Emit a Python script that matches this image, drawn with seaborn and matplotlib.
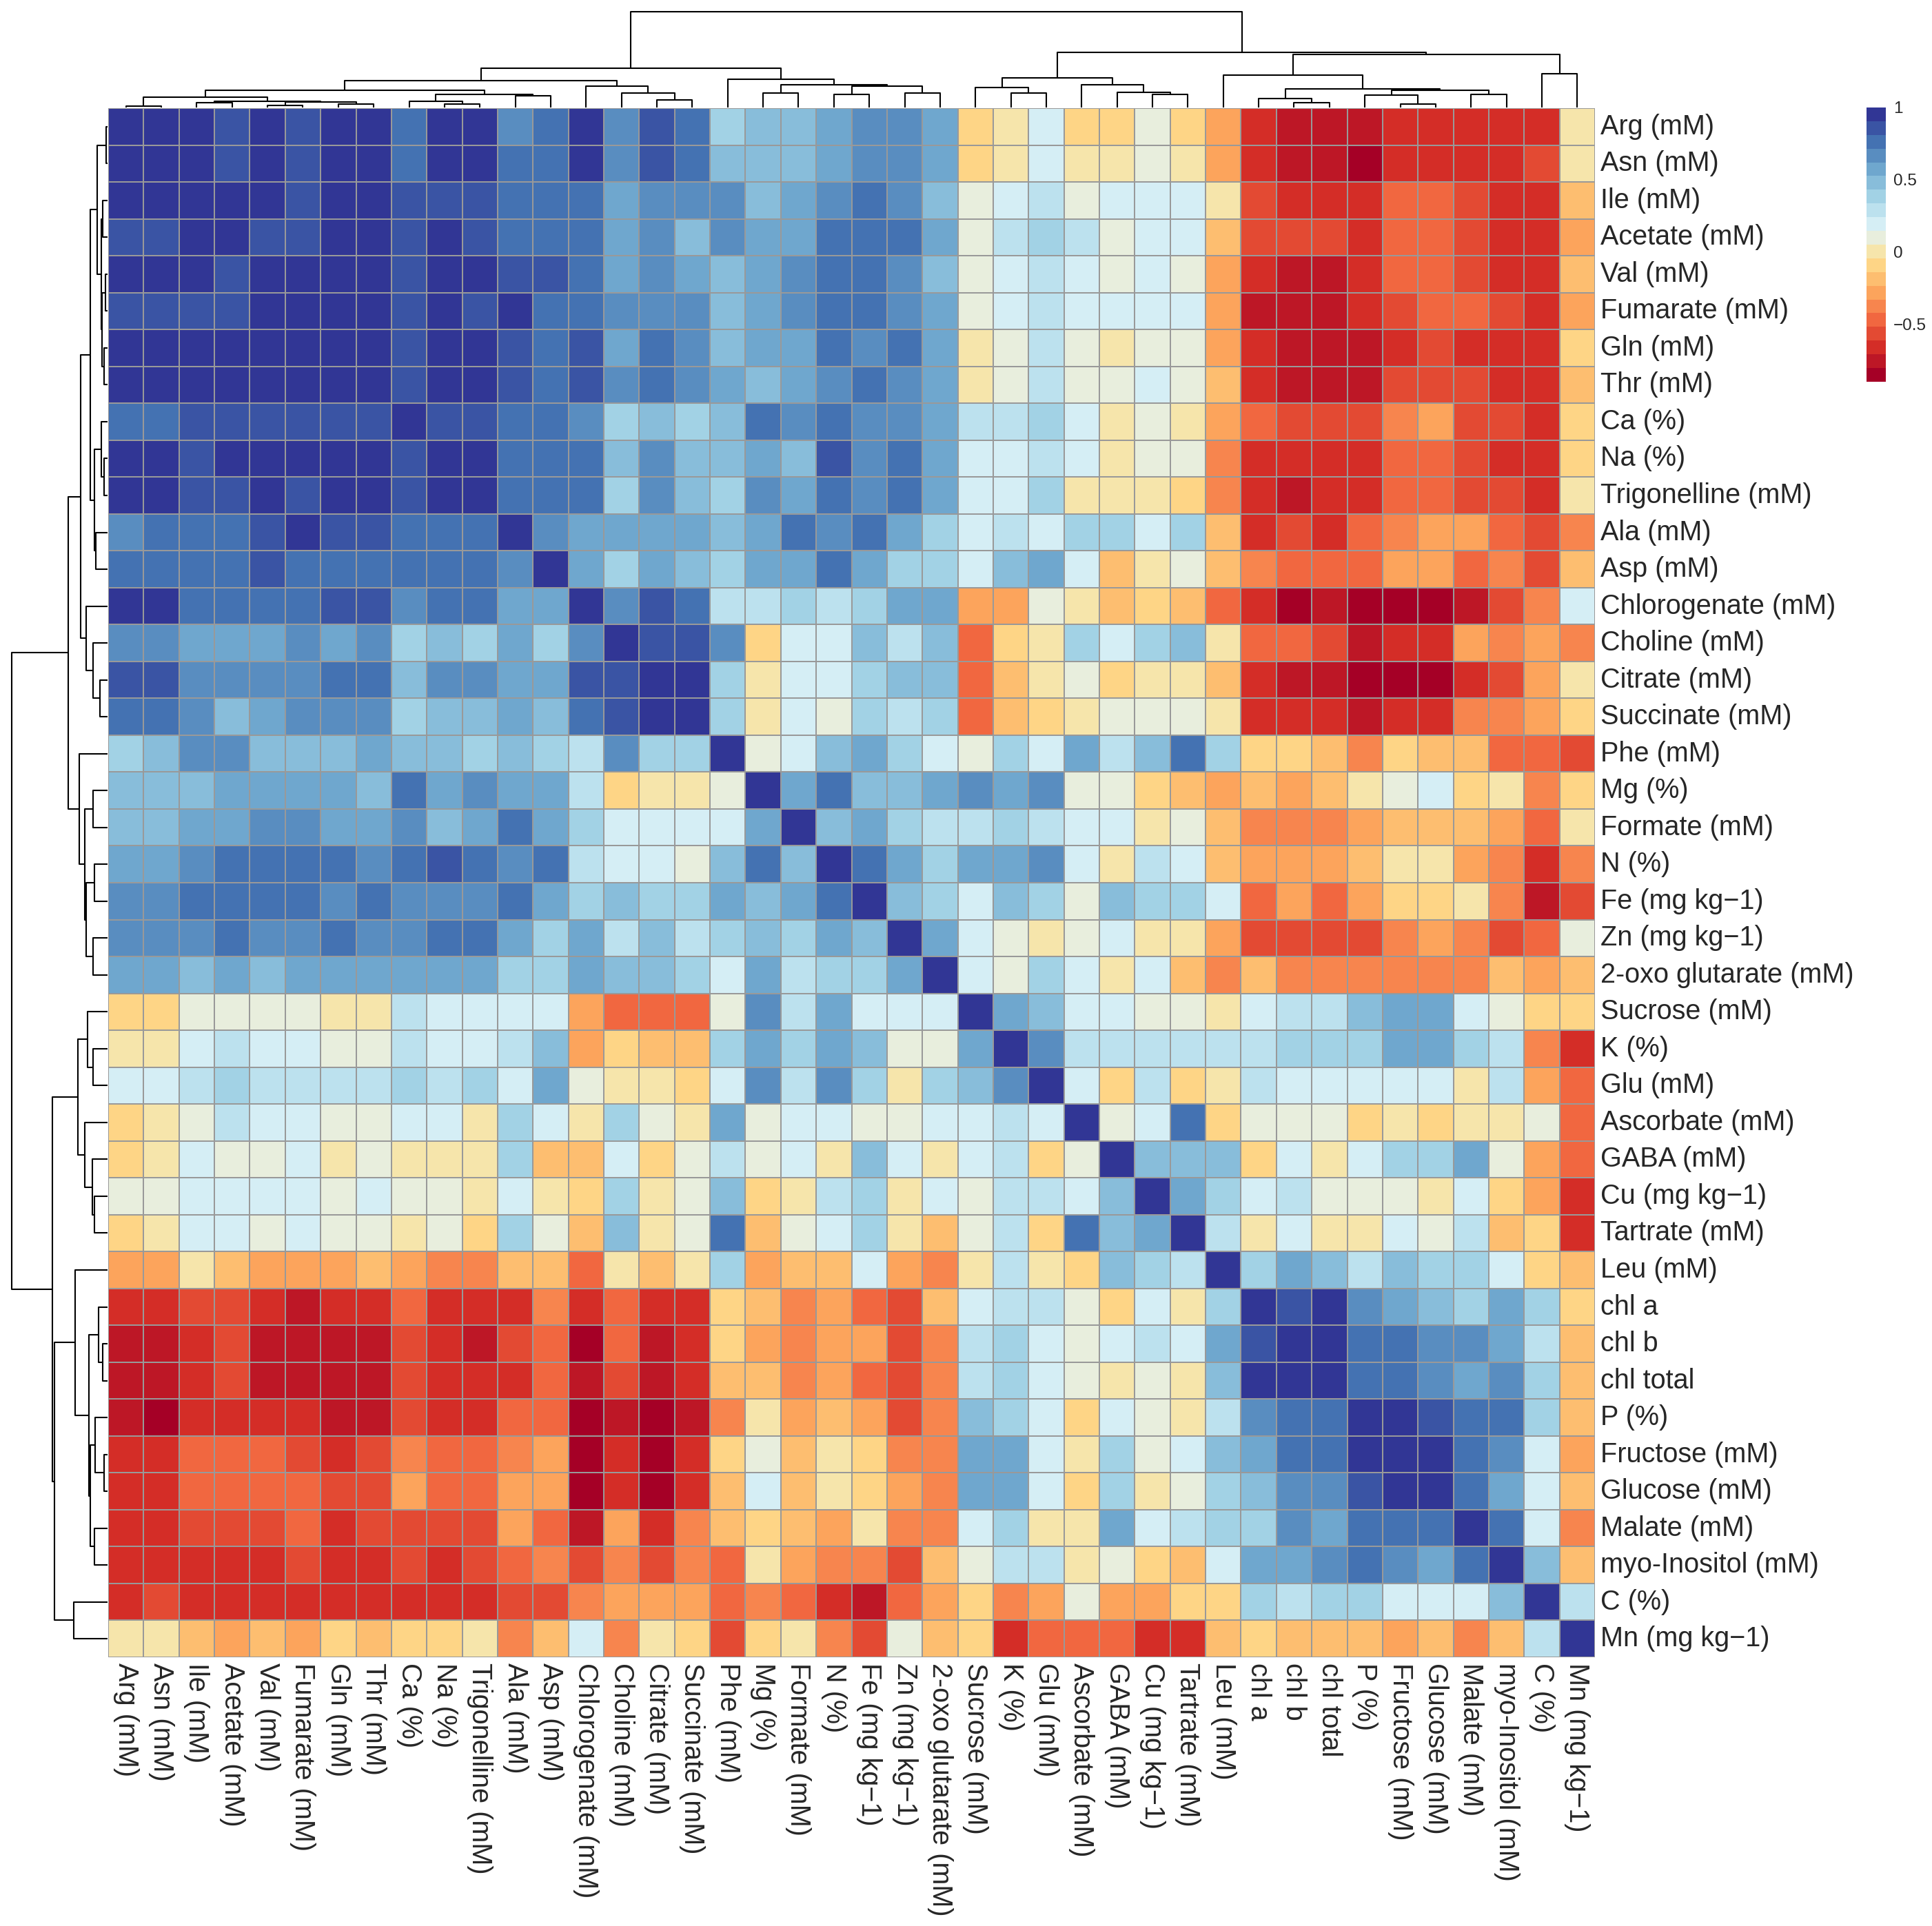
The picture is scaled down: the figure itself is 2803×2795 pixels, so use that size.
import numpy as np
import pandas as pd
import matplotlib
matplotlib.use("Agg")
import matplotlib.pyplot as plt
from matplotlib.colors import ListedColormap, to_rgb
import seaborn as sns

labels = ["Arg (mM)", "Asn (mM)", "Ile (mM)", "Acetate (mM)", "Val (mM)", "Fumarate (mM)",
          "Gln (mM)", "Thr (mM)", "Ca (%)", "Na (%)", "Trigonelline (mM)", "Ala (mM)", "Asp (mM)",
          "Chlorogenate (mM)", "Choline (mM)", "Citrate (mM)", "Succinate (mM)", "Phe (mM)",
          "Mg (%)", "Formate (mM)", "N (%)", "Fe (mg kg\u22121)", "Zn (mg kg\u22121)",
          "2-oxo glutarate (mM)", "Sucrose (mM)", "K (%)", "Glu (mM)", "Ascorbate (mM)",
          "GABA (mM)", "Cu (mg kg\u22121)", "Tartrate (mM)", "Leu (mM)", "chl a", "chl b",
          "chl total", "P (%)", "Fructose (mM)", "Glucose (mM)", "Malate (mM)",
          "myo-Inositol (mM)", "C (%)", "Mn (mg kg\u22121)"]

# upper triangle of the correlation matrix, row i holds columns i..41
upper_rows = [
    [1.0, .95, .95, .86, .95, .86, .95, .95, .76, .95, .95, .67, .76, .95, .67, .86, .76, .38, .48, .48, .57, .67, .67, .57, -.09, 0.0, .19, -.09, -.09, .10, -.09, -.28, -.66, -.76, -.76, -.76, -.66, -.66, -.66, -.66, -.66, 0.0],
    [1.0, .95, .86, .95, .86, .95, .95, .76, .95, .95, .76, .76, .95, .67, .86, .76, .48, .48, .48, .57, .67, .67, .57, -.09, 0.0, .19, 0.0, 0.0, .10, 0.0, -.28, -.66, -.76, -.76, -.85, -.66, -.66, -.66, -.66, -.57, 0.0],
    [1.0, .95, .95, .86, .95, .95, .86, .86, .86, .76, .76, .76, .57, .67, .67, .67, .48, .57, .67, .76, .67, .48, .10, .19, .29, .10, .19, .19, .19, 0.0, -.57, -.66, -.66, -.66, -.47, -.47, -.57, -.66, -.66, -.19],
    [1.0, .86, .86, .95, .95, .86, .95, .86, .76, .76, .76, .57, .67, .48, .67, .57, .57, .76, .76, .76, .57, .10, .29, .38, .29, .10, .19, .19, -.19, -.57, -.57, -.57, -.66, -.47, -.47, -.57, -.66, -.66, -.28],
    [1.0, .95, .95, .95, .86, .95, .95, .86, .86, .76, .57, .67, .57, .48, .57, .67, .76, .76, .67, .48, .10, .19, .29, .19, .10, .19, .10, -.28, -.66, -.76, -.76, -.66, -.47, -.47, -.57, -.66, -.66, -.19],
    [1.0, .95, .95, .86, .95, .86, .95, .76, .76, .67, .67, .67, .48, .57, .67, .76, .76, .67, .57, .10, .19, .29, .19, .19, .19, .19, -.28, -.76, -.76, -.76, -.66, -.57, -.47, -.47, -.57, -.66, -.28],
    [1.0, .95, .86, .95, .95, .86, .76, .86, .57, .76, .67, .48, .57, .57, .76, .67, .76, .57, 0.0, .10, .29, .10, 0.0, .10, .10, -.28, -.66, -.76, -.76, -.76, -.66, -.57, -.66, -.66, -.66, -.09],
    [1.0, .86, .95, .95, .86, .76, .86, .67, .76, .67, .57, .48, .57, .67, .76, .67, .57, 0.0, .10, .29, .10, .10, .19, .10, -.19, -.66, -.76, -.76, -.76, -.57, -.57, -.57, -.66, -.66, -.19],
    [1.0, .86, .86, .76, .76, .67, .38, .48, .38, .48, .76, .67, .76, .67, .67, .57, .29, .29, .38, .19, 0.0, .10, 0.0, -.28, -.47, -.57, -.57, -.57, -.38, -.28, -.57, -.57, -.66, -.09],
    [1.0, .95, .76, .76, .76, .48, .67, .48, .48, .57, .48, .86, .67, .76, .57, .19, .19, .29, .19, 0.0, .10, .10, -.38, -.66, -.66, -.66, -.66, -.47, -.47, -.57, -.66, -.66, -.09],
    [1.0, .76, .76, .76, .38, .67, .48, .38, .67, .57, .76, .67, .76, .57, .19, .19, .38, 0.0, 0.0, 0.0, -.09, -.38, -.66, -.76, -.66, -.66, -.47, -.47, -.57, -.57, -.66, 0.0],
    [1.0, .67, .57, .57, .57, .57, .48, .57, .76, .67, .76, .57, .38, .19, .29, .19, .38, .38, .19, .38, -.19, -.66, -.57, -.66, -.47, -.38, -.28, -.28, -.47, -.57, -.38],
    [1.0, .57, .38, .57, .48, .38, .57, .57, .76, .57, .38, .38, .19, .48, .57, .19, -.19, 0.0, .10, -.19, -.38, -.47, -.47, -.47, -.28, -.28, -.47, -.38, -.57, -.19],
    [1.0, .67, .86, .76, .29, .29, .38, .29, .38, .57, .57, -.28, -.28, .10, 0.0, -.19, -.09, -.19, -.47, -.66, -.85, -.76, -.85, -.85, -.85, -.76, -.57, -.38, .19],
    [1.0, .86, .86, .67, -.09, .19, .19, .48, .29, .48, -.47, -.09, 0.0, .38, .19, .38, .48, 0.0, -.47, -.47, -.57, -.76, -.66, -.66, -.28, -.38, -.28, -.38],
    [1.0, .95, .38, 0.0, .19, .19, .38, .48, .48, -.47, -.19, 0.0, .10, -.09, 0.0, 0.0, -.19, -.66, -.76, -.76, -.85, -.85, -.85, -.66, -.57, -.28, 0.0],
    [1.0, .38, 0.0, .19, .10, .38, .29, .38, -.47, -.19, -.09, 0.0, .10, .10, .10, 0.0, -.66, -.66, -.66, -.76, -.66, -.66, -.38, -.38, -.28, -.09],
    [1.0, .10, .19, .48, .57, .38, .19, .10, .38, .19, .57, .29, .48, .76, .38, -.09, -.09, -.19, -.38, -.09, -.19, -.19, -.47, -.47, -.57],
    [1.0, .57, .76, .48, .48, .57, .67, .57, .67, .10, .10, -.09, -.19, -.28, -.19, -.28, -.19, 0.0, .10, .19, -.09, 0.0, -.38, -.09],
    [1.0, .48, .57, .38, .29, .29, .38, .29, .19, .19, 0.0, .10, -.19, -.38, -.38, -.38, -.28, -.19, -.19, -.19, -.28, -.47, 0.0],
    [1.0, .76, .57, .38, .57, .57, .67, .19, 0.0, .29, .19, -.19, -.28, -.28, -.28, -.19, 0.0, 0.0, -.28, -.38, -.66, -.38],
    [1.0, .48, .38, .19, .48, .38, .10, .48, .38, .38, .19, -.47, -.28, -.47, -.28, -.09, -.09, 0.0, -.38, -.76, -.57],
    [1.0, .57, .19, .10, 0.0, .10, .19, 0.0, 0.0, -.28, -.57, -.57, -.57, -.57, -.38, -.28, -.38, -.57, -.47, .10],
    [1.0, .19, .10, .38, .19, 0.0, .19, -.19, -.38, -.19, -.38, -.38, -.38, -.38, -.38, -.38, -.19, -.28, -.19],
    [1.0, .57, .48, .19, .19, .10, .10, 0.0, .19, .29, .29, .48, .57, .57, .19, .10, -.09, -.09],
    [1.0, .67, .29, .29, .29, .29, .29, .29, .38, .38, .38, .57, .57, .38, .29, -.38, -.66],
    [1.0, .19, -.09, .29, -.09, 0.0, .29, .19, .19, .19, .19, .19, 0.0, .29, -.28, -.47],
    [1.0, .10, .19, .76, -.09, .10, .10, .10, -.09, 0.0, -.09, 0.0, 0.0, .10, -.47],
    [1.0, .48, .48, .48, -.09, .19, 0.0, .19, .38, .38, .57, .10, -.28, -.47],
    [1.0, .57, .38, .19, .29, .10, .10, .10, 0.0, .19, -.09, -.28, -.66],
    [1.0, .29, 0.0, .19, 0.0, 0.0, .19, .10, .29, -.19, -.09, -.66],
    [1.0, .38, .57, .48, .29, .48, .38, .38, .19, -.09, -.19],
    [1.0, .86, .95, .67, .57, .48, .38, .57, .38, -.09],
    [1.0, .95, .76, .76, .67, .67, .57, .29, -.19],
    [1.0, .76, .76, .67, .57, .67, .38, -.19],
    [1.0, .95, .86, .76, .76, .38, -.19],
    [1.0, .95, .76, .67, .19, -.28],
    [1.0, .76, .57, .19, -.19],
    [1.0, .76, .19, -.38],
    [1.0, .48, -.19],
    [1.0, .29],
    [1.0],
]

# hierarchical clustering tree (leaves 0..41 in display order, node 42+k = merge k)
merge_a = [0, 2, 4, 6, 44, 43, 42, 9, 8, 11, 50, 48, 15, 14, 13, 53, 18, 20, 22, 59, 58,
           17, 57, 25, 24, 29, 28, 27, 66, 33, 32, 36, 35, 38, 74, 72, 31, 40, 78, 70, 64]
merge_b = [1, 3, 5, 7, 45, 46, 47, 10, 49, 12, 51, 52, 16, 54, 55, 56, 19, 21, 23, 60, 61,
           62, 63, 26, 65, 30, 67, 68, 69, 34, 71, 37, 73, 39, 75, 76, 77, 41, 79, 80, 81]
merge_height = [0.012, 0.050, 0.019, 0.038, 0.055, 0.067, 0.108, 0.038, 0.067, 0.120, 0.139,
                0.182, 0.079, 0.151, 0.222, 0.278, 0.151, 0.139, 0.151, 0.222, 0.234, 0.294,
                0.409, 0.151, 0.211, 0.139, 0.158, 0.234, 0.306, 0.050, 0.096, 0.036, 0.127,
                0.139, 0.182, 0.196, 0.340, 0.349, 0.553, 0.574, 1.0]

legend_ticks = [1, 0.5, 0, -0.5]
legend_labels = ["1", "0.5", "0", "\u22120.5"]
value_min, value_max = -0.9, 1.0

# ---- build matrix ----
n = len(labels)
mat = np.zeros((n, n))
for i, row in enumerate(upper_rows):
    mat[i, i:] = row
    mat[i:, i] = row
df = pd.DataFrame(mat, index=labels, columns=labels)

# palette: RdYlBu (10) ramped to 20 colours
brewer = ["#A50026", "#D73027", "#F46D43", "#FDAE61", "#FEE090",
          "#E0F3F8", "#ABD9E9", "#74ADD1", "#4575B4", "#313695"]
rgb = np.array([to_rgb(c) for c in brewer])
p = np.linspace(0, 1, len(brewer))
t = np.linspace(0, 1, 20)
cols = np.stack([np.interp(t, p, rgb[:, k]) for k in range(3)], axis=1)
cmap = ListedColormap(cols)

sns.set_theme(style="white")
plt.rcParams['font.family'] = ['Liberation Sans', 'DejaVu Sans']

W, H = 2803, 2795
fig = plt.figure(figsize=(W / 100, H / 100), dpi=100)


def rect(x0, y0, x1, y1):
    return [x0 / W, 1 - y1 / H, (x1 - x0) / W, (y1 - y0) / H]


hm_l, hm_t, hm_r, hm_b = 157, 157, 2314, 2405
ax = fig.add_axes(rect(hm_l, hm_t, hm_r, hm_b))
cax = fig.add_axes(rect(2708, 156, 2736, 554))
axt = fig.add_axes(rect(hm_l, 17, hm_r, 156))
axl = fig.add_axes(rect(17, hm_t, 156, hm_b))

sns.heatmap(df, ax=ax, cbar_ax=cax, cmap=cmap, vmin=value_min, vmax=value_max,
            linewidths=1.1, linecolor="#999999", xticklabels=labels, yticklabels=labels)

fs = 28.5
ax.yaxis.tick_right()
ax.set_yticks(np.arange(n) + 0.5)
ax.set_yticklabels(labels, rotation=0, ha="left", va="center", fontsize=fs)
ax.set_xticks(np.arange(n) + 0.5)
ax.set_xticklabels(labels, rotation=-90, ha="center", va="top", fontsize=fs)
ax.tick_params(axis="both", length=0)
ax.tick_params(axis="y", pad=6)
ax.tick_params(axis="x", pad=6)
ax.set_xlabel("")
ax.set_ylabel("")

cbar = ax.collections[0].colorbar
cbar.set_ticks(legend_ticks)
cbar.set_ticklabels(legend_labels)
cbar.outline.set_visible(False)
cax.tick_params(length=0, labelsize=17.5, pad=8)

# ---- dendrograms ----
pos_x = {i: i + 0.5 for i in range(n)}
ht = {i: 0.0 for i in range(n)}
for k, (a, b, h) in enumerate(zip(merge_a, merge_b, merge_height)):
    xa, xb = pos_x[a], pos_x[b]
    xs = [xa, xa, xb, xb]
    ys = [ht[a], h, h, ht[b]]
    axt.plot(xs, ys, color="black", lw=1.5, clip_on=False, solid_capstyle="butt")
    axl.plot(ys, xs, color="black", lw=1.5, clip_on=False, solid_capstyle="butt")
    pos_x[n + k] = (xa + xb) / 2
    ht[n + k] = h

axt.set_xlim(0, n)
axt.set_ylim(0, 1)
axt.axis("off")
axl.set_ylim(n, 0)
axl.set_xlim(1, 0)
axl.axis("off")

fig.savefig("out.png", dpi=100, facecolor="white")
